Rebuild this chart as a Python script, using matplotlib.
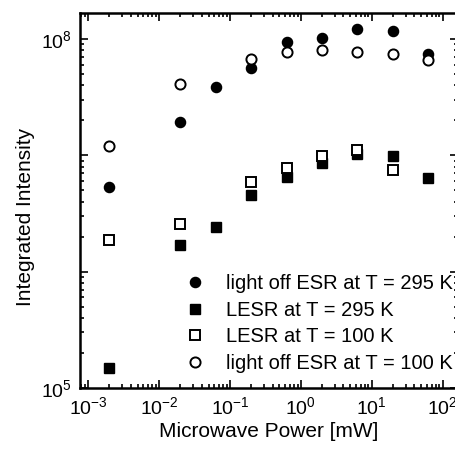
import matplotlib
matplotlib.use("Agg")
import matplotlib.pyplot as plt
from matplotlib.ticker import LogLocator, NullFormatter

plt.rcParams['font.family'] = ['Liberation Sans', 'DejaVu Sans']
plt.rcParams['mathtext.fontset'] = 'custom'
plt.rcParams['mathtext.rm'] = 'Liberation Sans'
plt.rcParams['mathtext.it'] = 'Liberation Sans'

# microwave power [mW]
power_off295 = [0.002, 0.02, 0.063, 0.2, 0.63, 2, 6.3, 20, 63]
off295 = [5.3e6, 1.93e7, 3.85e7, 5.66e7, 9.4e7, 1.01e8, 1.21e8, 1.18e8, 7.4e7]

power_lesr295 = [0.002, 0.02, 0.063, 0.2, 0.63, 2, 6.3, 20, 63]
lesr295 = [1.49e5, 1.71e6, 2.4e6, 4.58e6, 6.55e6, 8.64e6, 1.02e7, 9.8e6, 6.34e6]

power_lesr100 = [0.002, 0.02, 0.2, 0.63, 2, 6.3, 20]
lesr100 = [1.86e6, 2.57e6, 5.93e6, 7.73e6, 9.86e6, 1.11e7, 7.43e6]

power_off100 = [0.002, 0.02, 0.2, 0.63, 2, 6.3, 20, 63]
off100 = [1.19e7, 4.08e7, 6.69e7, 7.78e7, 8.04e7, 7.68e7, 7.48e7, 6.64e7]

labels = ["light off ESR at T = 295 K", "LESR at T = 295 K",
          "LESR at T = 100 K", "light off ESR at T = 100 K"]

fig = plt.figure(figsize=(4.56, 4.49), dpi=100)
ax = fig.add_axes([80/456, 1 - 388/449, 378/456, 375/449])

ms = 7.3
ax.plot(power_off295, off295, 'o', color='black', ms=ms, label=labels[0])
ax.plot(power_lesr295, lesr295, 's', color='black', ms=ms*0.92, label=labels[1])
ax.plot(power_lesr100, lesr100, 's', mfc='white', mec='black', mew=1.4, ms=ms*0.92, label=labels[2])
ax.plot(power_off100, off100, 'o', mfc='white', mec='black', mew=1.4, ms=ms, label=labels[3])

ax.set_xscale('log')
ax.set_yscale('log')
ax.set_xlim(7.7e-4, 165)
ax.set_ylim(1e5, 1.67e8)

ax.set_xticks([1e-3, 1e-2, 1e-1, 1e0, 1e1, 1e2])
ax.set_xticklabels(['$10^{-3}$', '$10^{-2}$', '$10^{-1}$', '$10^{0}$', '$10^{1}$', '$10^{2}$'])
ax.set_yticks([1e5, 1e6, 1e7, 1e8])
ax.set_yticklabels(['$10^{5}$', '', '', '$10^{8}$'])
ax.xaxis.set_minor_locator(LogLocator(base=10, subs=range(2, 10), numticks=20))
ax.yaxis.set_minor_locator(LogLocator(base=10, subs=range(2, 10), numticks=20))
ax.xaxis.set_minor_formatter(NullFormatter())
ax.yaxis.set_minor_formatter(NullFormatter())

ax.tick_params(which='both', direction='in', top=True, right=True, labelsize=14, width=1.2)
ax.tick_params(which='major', length=5.5, pad=6)
ax.tick_params(which='minor', length=3)
for sp in ax.spines.values():
    sp.set_linewidth(1.8)

ax.set_xlabel('Microwave Power [mW]', fontsize=15, labelpad=3)
ax.set_ylabel('Integrated Intensity', fontsize=15)
ax.yaxis.set_label_coords(-0.12, 0.457)

ax.legend(loc='lower right', frameon=False, fontsize=14.5, handletextpad=0.95,
          labelspacing=0.38, borderaxespad=0, borderpad=0, handlelength=1.2,
          bbox_to_anchor=(0.986, 0.04))

fig.savefig('out.png', dpi=100)
